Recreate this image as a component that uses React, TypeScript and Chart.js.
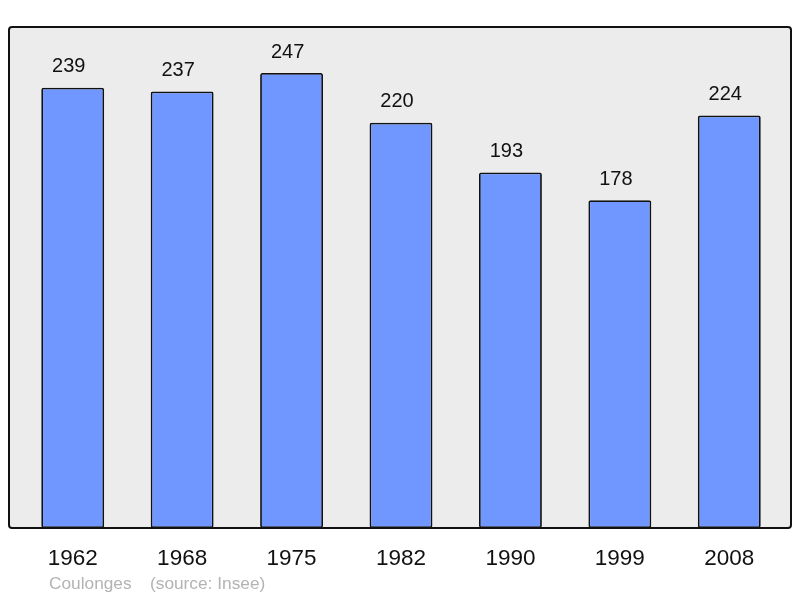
import React, { useEffect, useRef } from "react";
import { Chart, registerables } from "chart.js";

Chart.register(...registerables);

const years = ["1962", "1968", "1975", "1982", "1990", "1999", "2008"];
const population = [239, 237, 247, 220, 193, 178, 224];
const footerTown = "Coulonges";
const footerSource = "(source: Insee)";

const FONT = "'Liberation Sans', Arial, sans-serif";

function framePath(ctx: CanvasRenderingContext2D) {
  const x0 = 9, y0 = 27, x1 = 791, y1 = 528, r = 3;
  ctx.beginPath();
  ctx.moveTo(x0 + r, y0);
  ctx.lineTo(x1 - r, y0);
  ctx.quadraticCurveTo(x1, y0, x1, y0 + r);
  ctx.lineTo(x1, y1 - r);
  ctx.quadraticCurveTo(x1, y1, x1 - r, y1);
  ctx.lineTo(x0 + r, y1);
  ctx.quadraticCurveTo(x0, y1, x0, y1 - r);
  ctx.lineTo(x0, y0 + r);
  ctx.quadraticCurveTo(x0, y0, x0 + r, y0);
  ctx.closePath();
}

const framePlugin = {
  id: "frame",
  beforeDraw(chart: any) {
    const { ctx } = chart;
    ctx.save();
    ctx.fillStyle = "#ffffff";
    ctx.fillRect(0, 0, chart.width, chart.height);
    framePath(ctx);
    ctx.fillStyle = "#ececec";
    ctx.fill();
    ctx.restore();
  },
  afterDatasetsDraw(chart: any) {
    const { ctx } = chart;
    ctx.save();
    framePath(ctx);
    ctx.lineWidth = 2;
    ctx.strokeStyle = "#111111";
    ctx.stroke();

    // value labels
    const meta = chart.getDatasetMeta(0);
    ctx.fillStyle = "#111111";
    ctx.font = `20px ${FONT}`;
    ctx.textAlign = "center";
    ctx.textBaseline = "middle";
    meta.data.forEach((bar: any, i: number) => {
      ctx.fillText(String(population[i]), bar.x - 4, bar.y - 21);
    });

    // footer
    ctx.fillStyle = "#b3b3b3";
    ctx.font = `17.3px ${FONT}`;
    ctx.textAlign = "left";
    ctx.fillText(footerTown, 49, 584);
    ctx.fillText(footerSource, 150, 584);
    ctx.restore();
  },
};

export default function App() {
  const ref = useRef<HTMLCanvasElement | null>(null);
  useEffect(() => {
    document.body.style.margin = "0";
    const chart = new Chart(ref.current as HTMLCanvasElement, {
      type: "bar",
      data: {
        labels: years,
        datasets: [
          {
            data: population,
            backgroundColor: "#7096ff",
            borderColor: "#111111",
            borderWidth: 1.8,
            borderRadius: 2,
            borderSkipped: false,
            categoryPercentage: 1,
            barPercentage: 0.575,
          },
        ],
      },
      options: {
        responsive: false,
        animation: false,
        layout: { padding: { left: 18, right: 16, top: 27, bottom: 20 } },
        plugins: { legend: { display: false }, tooltip: { enabled: false } },
        scales: {
          x: {
            offset: true,
            grid: { display: false, drawTicks: false },
            border: { display: false },
            ticks: { color: "#111111", font: { family: FONT, size: 22.5 }, padding: 17, maxRotation: 0 },
            afterFit: (s: any) => {
              s.height = 50;
            },
          },
          y: {
            display: false,
            min: 0,
            max: 272,
          },
        },
      },
      plugins: [framePlugin],
    });
    return () => chart.destroy();
  }, []);
  return (
    <div style={{ width: 800, height: 598 }}>
      <canvas ref={ref} width={800} height={598} />
    </div>
  );
}
